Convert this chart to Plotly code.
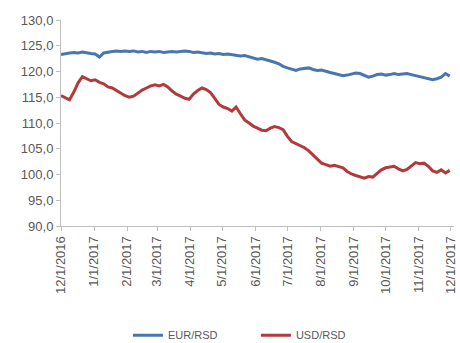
import pandas as pd
import plotly.graph_objects as go

# Observation dates: every 4 days from 1 Dec 2016 to late Nov 2017
dates = pd.date_range("2016-12-01", periods=92, freq="4D")

eur_rsd = [
    123.3, 123.5, 123.6, 123.7, 123.6, 123.8, 123.6, 123.5, 123.4, 122.8,
    123.6, 123.8, 123.9, 124.0, 123.9, 124.0, 123.9, 124.0, 123.8, 123.9,
    123.7, 123.9, 123.8, 123.9, 123.7, 123.8, 123.9, 123.8, 123.9, 124.0,
    123.9, 123.7, 123.8, 123.6, 123.5, 123.6, 123.4, 123.5, 123.3, 123.4,
    123.3, 123.2, 123.0, 123.1, 122.9, 122.6, 122.4, 122.5, 122.3, 122.0,
    121.8, 121.5, 121.0, 120.7, 120.4, 120.2, 120.5, 120.6, 120.7, 120.4,
    120.2, 120.3, 120.0, 119.8, 119.6, 119.4, 119.2, 119.3, 119.5, 119.7,
    119.6, 119.3, 118.9, 119.1, 119.4, 119.5, 119.3, 119.4, 119.6, 119.4,
    119.5, 119.6, 119.4, 119.2, 119.0, 118.7, 118.5, 118.4, 118.6, 118.9,
    119.6, 119.1,
]

usd_rsd = [
    115.3, 114.9, 114.5, 116.0, 117.8, 119.0, 118.6, 118.2, 118.4, 117.9,
    117.6, 117.0, 116.8, 116.3, 115.8, 115.3, 115.0, 115.2, 115.8, 116.4,
    116.8, 117.2, 117.4, 117.2, 117.5, 117.0, 116.2, 115.6, 115.2, 114.8,
    114.6, 115.6, 116.3, 116.8, 116.5, 115.9, 114.8, 113.6, 113.1, 112.8,
    112.3, 113.1, 111.8, 110.6, 110.0, 109.4, 109.0, 108.6, 108.5, 109.0,
    109.3, 109.1, 108.7, 107.4, 106.4, 106.0, 105.5, 105.2, 104.6, 103.8,
    102.8, 102.2, 101.9, 101.6, 101.8, 101.5, 101.3, 100.6, 100.1, 99.8,
    99.5, 99.3, 99.6, 99.5, 100.2, 100.9, 101.3, 101.5, 101.6, 101.1,
    100.7, 101.0, 101.6, 102.3, 102.1, 102.2, 101.6, 100.7, 100.4, 100.9,
    100.3, 100.8,
]

y_ticks = [90, 95, 100, 105, 110, 115, 120, 125, 130]
y_tick_labels = ["90,0", "95,0", "100,0", "105,0", "110,0", "115,0", "120,0", "125,0", "130,0"]
x_ticks = pd.date_range("2016-12-01", "2017-12-01", freq="MS")
x_tick_labels = [f"{d.month}/{d.day}/{d.year}" for d in x_ticks]

font = dict(family="Liberation Sans, Arial, sans-serif", size=13, color="#595959")
axis_color = "#bfbfbf"

fig = go.Figure()
fig.add_trace(go.Scatter(x=dates, y=eur_rsd, mode="lines", name="EUR/RSD",
                         line=dict(color="#4a76b0", width=3)))
fig.add_trace(go.Scatter(x=dates, y=usd_rsd, mode="lines", name="USD/RSD",
                         line=dict(color="#b23a3c", width=3)))

fig.update_layout(
    width=460, height=343,
    margin=dict(l=61, r=6, t=20, b=117, autoexpand=False),
    paper_bgcolor="white", plot_bgcolor="white",
    font=font,
    showlegend=True,
    legend=dict(orientation="h", x=0.496, xanchor="center", y=-0.53, yanchor="middle",
                font=dict(size=11, color="#595959"), entrywidth=83),
)
fig.update_xaxes(
    type="date", range=["2016-12-01", "2017-12-04"],
    tickvals=x_ticks, ticktext=x_tick_labels, tickangle=-90,
    showline=True, linecolor=axis_color, linewidth=1,
    ticks="outside", ticklen=4, tickcolor=axis_color,
    showgrid=False, zeroline=False, automargin=False,
)
fig.update_yaxes(
    range=[90, 130], tickvals=y_ticks, ticktext=y_tick_labels,
    showline=True, linecolor=axis_color, linewidth=1,
    ticks="outside", ticklen=4, tickcolor=axis_color,
    showgrid=False, zeroline=False, automargin=False,
)

fig.write_html("out.html")
